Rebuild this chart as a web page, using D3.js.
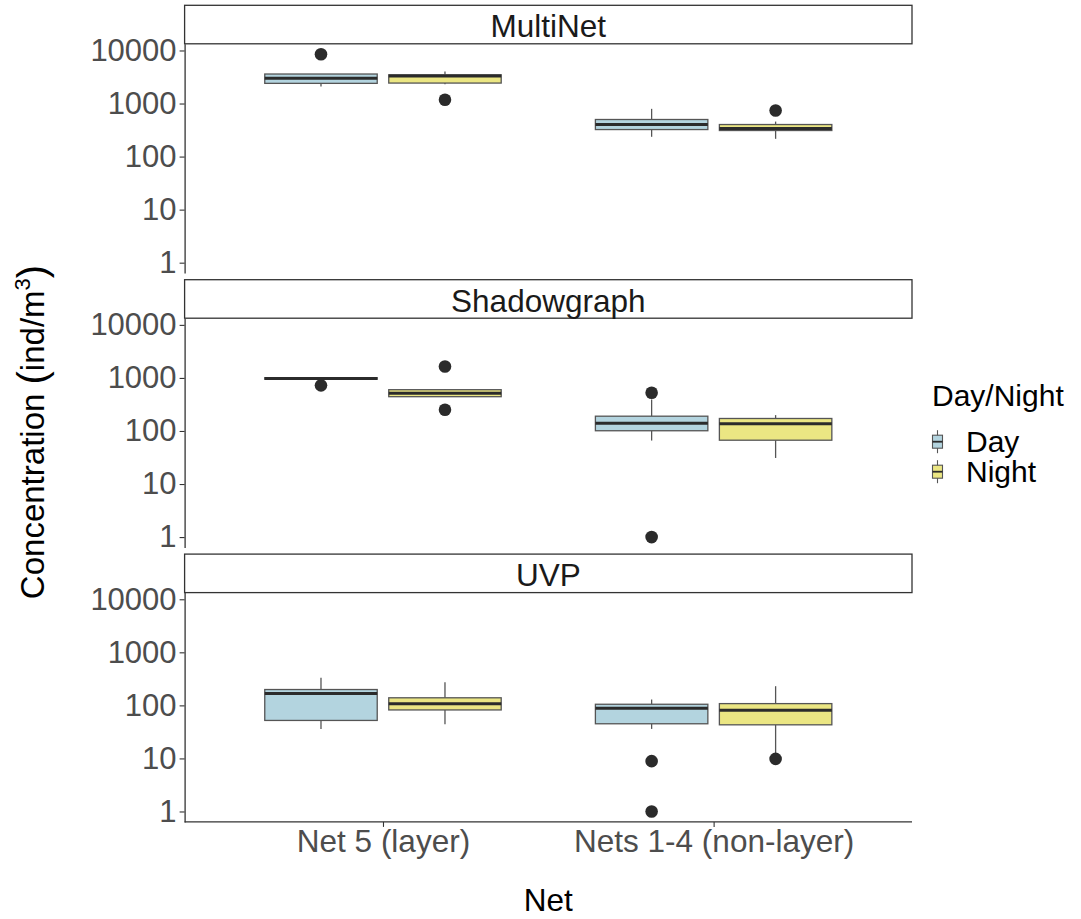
<!DOCTYPE html>
<html>
<head>
<meta charset="utf-8">
<script src="https://cdn.jsdelivr.net/npm/d3@7"></script>
<style>
  html, body { margin: 0; padding: 0; background: #ffffff; }
  svg { display: block; }
</style>
</head>
<body>
<script>
// Concentration of organisms by net type, day vs night, for three instruments

const facets = ["MultiNet", "Shadowgraph", "UVP"];
const nets = ["Net 5 (layer)", "Nets 1-4 (non-layer)"];
const periods = ["Day", "Night"];
const yTickValues = [1, 10, 100, 1000, 10000];

// box rows: net, period, lower whisker, Q1, median, Q3, upper whisker
const multiNetBoxes = [
  ["Net 5 (layer)", "Day", 2100, 2400, 3000, 3600, 3600],
  ["Net 5 (layer)", "Night", 2320, 2430, 3290, 3480, 4020],
  ["Nets 1-4 (non-layer)", "Day", 236, 323, 402, 500, 794],
  ["Nets 1-4 (non-layer)", "Night", 216, 310, 340, 402, 457]
];
const shadowgraphBoxes = [
  ["Net 5 (layer)", "Day", 940, 945, 975, 1010, 1030],
  ["Net 5 (layer)", "Night", 440, 443, 512, 600, 610],
  ["Nets 1-4 (non-layer)", "Day", 66, 101, 140, 190, 393],
  ["Nets 1-4 (non-layer)", "Night", 31, 67, 137, 172, 199]
];
const uvpBoxes = [
  ["Net 5 (layer)", "Day", 36, 52, 167, 199, 331],
  ["Net 5 (layer)", "Night", 44, 82, 107, 139, 274],
  ["Nets 1-4 (non-layer)", "Day", 36, 45, 88, 105, 129],
  ["Nets 1-4 (non-layer)", "Night", 11.5, 43, 81, 108, 230]
];

// outlier rows: net, period, value
const multiNetOutliers = [
  ["Net 5 (layer)", "Day", 8500],
  ["Net 5 (layer)", "Night", 1180],
  ["Nets 1-4 (non-layer)", "Night", 740]
];
const shadowgraphOutliers = [
  ["Net 5 (layer)", "Day", 725],
  ["Net 5 (layer)", "Night", 1640],
  ["Net 5 (layer)", "Night", 252],
  ["Nets 1-4 (non-layer)", "Day", 527],
  ["Nets 1-4 (non-layer)", "Day", 1]
];
const uvpOutliers = [
  ["Nets 1-4 (non-layer)", "Day", 8.9],
  ["Nets 1-4 (non-layer)", "Day", 1],
  ["Nets 1-4 (non-layer)", "Night", 9.8]
];

const boxesByFacet = [multiNetBoxes, shadowgraphBoxes, uvpBoxes];
const outliersByFacet = [multiNetOutliers, shadowgraphOutliers, uvpOutliers];

const fillColors = { Day: "#b3d4df", Night: "#ebe683" };

const W = 1081, H = 919;
const FONT = "'Liberation Sans', Arial, Helvetica, sans-serif";

const panelLeft = 184.6, panelRight = 912;
const firstTop = 5.3, stripH = 38.5, panelH = 229.3, panelGap = 6.6;

const svg = d3.select("body").append("svg")
  .attr("width", W).attr("height", H)
  .style("background", "#ffffff");

// discrete x positions with a 0.6 unit expansion on each side
const x = d3.scalePoint().domain(nets).range([panelLeft, panelRight]).padding(0.6);
const step = x.step();
const dodge = d3.scaleBand().domain(periods).range([-0.375 * step, 0.375 * step]);
const boxW = dodge.bandwidth() * 0.907;

// shared log y domain with 5% expansion in log space
const allValues = [];
boxesByFacet.forEach(rows => rows.forEach(r => allValues.push(...r.slice(2))));
outliersByFacet.forEach(rows => rows.forEach(r => allValues.push(r[2])));
const logExt = d3.extent(allValues, v => Math.log10(v));
const pad = (logExt[1] - logExt[0]) * 0.05;
const yDomain = [Math.pow(10, logExt[0] - pad), Math.pow(10, logExt[1] + pad)];

facets.forEach((facet, i) => {
  const stripTop = firstTop + i * (stripH + panelH + panelGap);
  const pTop = stripTop + stripH;
  const pBot = pTop + panelH;
  const y = d3.scaleLog().domain(yDomain).range([pBot, pTop]);

  const g = svg.append("g").attr("class", "facet");

  // strip
  g.append("rect")
    .attr("x", panelLeft).attr("y", stripTop)
    .attr("width", panelRight - panelLeft).attr("height", stripH)
    .attr("fill", "#ffffff").attr("stroke", "#333333").attr("stroke-width", 1.3);
  g.append("text")
    .attr("x", (panelLeft + panelRight) / 2).attr("y", stripTop + 32)
    .attr("text-anchor", "middle")
    .attr("font-family", FONT).attr("font-size", 31.5).attr("fill", "#1a1a1a")
    .text(facet);

  // y axis
  const yAxis = g.append("g")
    .attr("transform", `translate(${panelLeft},0)`)
    .call(d3.axisLeft(y).tickValues(yTickValues).tickFormat(d3.format("d"))
      .tickSize(5).tickSizeOuter(0).tickPadding(3));
  yAxis.select(".domain").attr("stroke", "#333333").attr("stroke-width", 1.3);
  yAxis.selectAll(".tick line").attr("stroke", "#333333").attr("stroke-width", 1.1);
  yAxis.selectAll(".tick text")
    .attr("font-family", FONT).attr("font-size", 31).attr("fill", "#4d4d4d");

  const boxes = boxesByFacet[i].map(r => ({
    net: r[0], period: r[1], lw: r[2], q1: r[3], med: r[4], q3: r[5], uw: r[6]
  }));
  const cx = d => x(d.net) + dodge(d.period) + dodge.bandwidth() / 2;

  // whiskers
  g.selectAll("line.whisker-up").data(boxes).join("line")
    .attr("x1", cx).attr("x2", cx)
    .attr("y1", d => y(d.uw)).attr("y2", d => y(d.q3))
    .attr("stroke", "#555555").attr("stroke-width", 1.3);
  g.selectAll("line.whisker-down").data(boxes).join("line")
    .attr("x1", cx).attr("x2", cx)
    .attr("y1", d => y(d.q1)).attr("y2", d => y(d.lw))
    .attr("stroke", "#555555").attr("stroke-width", 1.3);

  // boxes
  g.selectAll("rect.box").data(boxes).join("rect")
    .attr("class", "box")
    .attr("x", d => cx(d) - boxW / 2).attr("width", boxW)
    .attr("y", d => y(d.q3)).attr("height", d => Math.max(0.5, y(d.q1) - y(d.q3)))
    .attr("fill", d => fillColors[d.period])
    .attr("stroke", "#555555").attr("stroke-width", 1.3);

  // medians
  g.selectAll("line.median").data(boxes).join("line")
    .attr("x1", d => cx(d) - boxW / 2).attr("x2", d => cx(d) + boxW / 2)
    .attr("y1", d => y(d.med)).attr("y2", d => y(d.med))
    .attr("stroke", "#2b2b2b").attr("stroke-width", 3);

  // outliers
  const outs = outliersByFacet[i].map(r => ({ net: r[0], period: r[1], v: r[2] }));
  g.selectAll("circle.outlier").data(outs).join("circle")
    .attr("cx", cx).attr("cy", d => y(d.v)).attr("r", 6.3)
    .attr("fill", "#2b2b2b");

  // x axis on the bottom panel only
  if (i === facets.length - 1) {
    const xAxis = g.append("g")
      .attr("transform", `translate(0,${pBot})`)
      .call(d3.axisBottom(x).tickSize(5).tickSizeOuter(0).tickPadding(3));
    xAxis.select(".domain").attr("stroke", "#333333").attr("stroke-width", 1.3)
      .attr("d", `M${panelLeft},0H${panelRight}`);
    xAxis.selectAll(".tick line").attr("stroke", "#333333").attr("stroke-width", 1.1);
    xAxis.selectAll(".tick text")
      .attr("font-family", FONT).attr("font-size", 31.5).attr("fill", "#4d4d4d");
  }
});

// x axis title
svg.append("text")
  .attr("x", (panelLeft + panelRight) / 2).attr("y", 911)
  .attr("text-anchor", "middle")
  .attr("font-family", FONT).attr("font-size", 31.5).attr("fill", "#000000")
  .text("Net");

// y axis title with superscript unit
const yTitle = svg.append("text")
  .attr("transform", "translate(44,432) rotate(-90)")
  .attr("text-anchor", "middle")
  .attr("font-family", FONT).attr("font-size", 33).attr("fill", "#000000");
yTitle.append("tspan").text("Concentration ");
yTitle.append("tspan").attr("font-size", 40).attr("dy", 2).text("(");
yTitle.append("tspan").attr("dy", -2).text("ind/m");
yTitle.append("tspan").attr("font-size", 22).attr("dy", -14).text("3");
yTitle.append("tspan").attr("font-size", 40).attr("dy", 16).text(")");

// legend
const legend = svg.append("g").attr("class", "legend");
legend.append("text")
  .attr("x", 932).attr("y", 406)
  .attr("font-family", FONT).attr("font-size", 30).attr("fill", "#000000")
  .text("Day/Night");

periods.forEach((p, k) => {
  const cy = 441.7 + k * 30;
  const kx = 937.5;
  legend.append("line")
    .attr("x1", kx).attr("x2", kx).attr("y1", cy - 11.5).attr("y2", cy + 11.5)
    .attr("stroke", "#555555").attr("stroke-width", 1.1);
  legend.append("rect")
    .attr("x", kx - 5).attr("y", cy - 6.5).attr("width", 10).attr("height", 13)
    .attr("fill", fillColors[p]).attr("stroke", "#555555").attr("stroke-width", 1.1);
  legend.append("line")
    .attr("x1", kx - 5).attr("x2", kx + 5).attr("y1", cy).attr("y2", cy)
    .attr("stroke", "#2b2b2b").attr("stroke-width", 1.8);
  legend.append("text")
    .attr("x", 966).attr("y", cy + 10.5)
    .attr("font-family", FONT).attr("font-size", 30).attr("fill", "#000000")
    .text(p);
});
</script>
</body>
</html>
